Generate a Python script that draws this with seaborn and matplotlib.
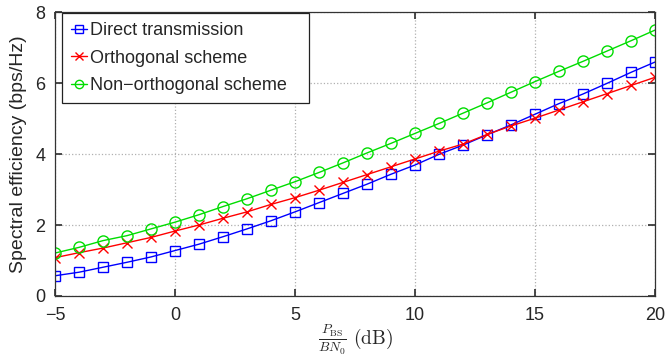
import matplotlib
matplotlib.use("Agg")
import matplotlib.pyplot as plt
import seaborn as sns
import pandas as pd

snr_db = list(range(-5, 21))
direct = [0.57, 0.67, 0.81, 0.95, 1.10, 1.28, 1.46, 1.67, 1.89, 2.12, 2.37, 2.63, 2.89,
          3.15, 3.43, 3.69, 3.99, 4.25, 4.54, 4.82, 5.12, 5.42, 5.69, 5.99, 6.30, 6.59]
orthogonal = [1.08, 1.22, 1.35, 1.50, 1.65, 1.83, 2.00, 2.19, 2.37, 2.58, 2.77, 2.98, 3.20,
              3.42, 3.64, 3.86, 4.08, 4.28, 4.55, 4.79, 5.01, 5.24, 5.47, 5.70, 5.93, 6.16]
non_orthogonal = [1.21, 1.37, 1.56, 1.70, 1.89, 2.08, 2.29, 2.52, 2.74, 2.98, 3.22, 3.48, 3.75,
                  4.03, 4.30, 4.58, 4.86, 5.15, 5.44, 5.74, 6.04, 6.33, 6.61, 6.90, 7.19, 7.49]
series_names = ["Direct transmission", "Orthogonal scheme", "Non\u2212orthogonal scheme"]
xticks = [-5, 0, 5, 10, 15, 20]
yticks = [0, 2, 4, 6, 8]

sns.set_theme(style="white")
plt.rcParams['font.family'] = ['Liberation Sans', 'DejaVu Sans']
plt.rcParams['mathtext.fontset'] = 'cm'

fig = plt.figure(figsize=(6.65, 3.56), dpi=100)
ax = fig.add_axes([55/665, 1 - 296/356, 600/665, 284/356])

colors = ["#0000ff", "#ff0000", "#00dd00"]
markers = ["s", "x", "o"]
msizes = [7, 7, 8]
for vals, name, c, m, ms in zip([direct, orthogonal, non_orthogonal], series_names, colors, markers, msizes):
    d = pd.DataFrame({"snr": snr_db, "se": vals})
    kw = dict(markerfacecolor="none") if m != "x" else {}
    sns.lineplot(data=d, x="snr", y="se", ax=ax, color=c, marker=m, markersize=ms,
                 markeredgecolor=c, markeredgewidth=1.0, linewidth=1.0, label=name, **kw)

ax.set_xlim(-5, 20)
ax.set_ylim(0, 8)
ax.set_xticks(xticks)
ax.set_yticks(yticks)
ax.set_xticklabels([str(t).replace('-', '\u2212') for t in xticks])
ax.grid(True, linestyle=":", color="#b0b0b0", linewidth=0.9)
ax.tick_params(direction="in", length=5, labelsize=13, top=True, right=True,
               bottom=True, left=True, color="#333333")
ax.tick_params(axis="x", pad=8)
ax.tick_params(axis="y", pad=7)
for s in ax.spines.values():
    s.set_color("#333333")
    s.set_linewidth(0.9)
ax.set_xlabel(r"$\frac{P_{\rm BS}}{BN_0}\ (\rm dB)$", fontsize=14, labelpad=-1)
ax.set_ylabel("Spectral efficiency (bps/Hz)", fontsize=14, labelpad=6)

leg = ax.legend(loc="upper left", bbox_to_anchor=(7/600, 280/284, 247/600, 0.01),
                mode="expand", fontsize=13, frameon=True, fancybox=False,
                edgecolor="#222222", framealpha=1, handlelength=0.9, handletextpad=0.15,
                borderaxespad=0.0, borderpad=0.5, labelspacing=0.58)
leg.get_frame().set_linewidth(0.9)
for h in leg.legend_handles:
    h.set_markersize(6)

fig.savefig("out.png", dpi=100)
